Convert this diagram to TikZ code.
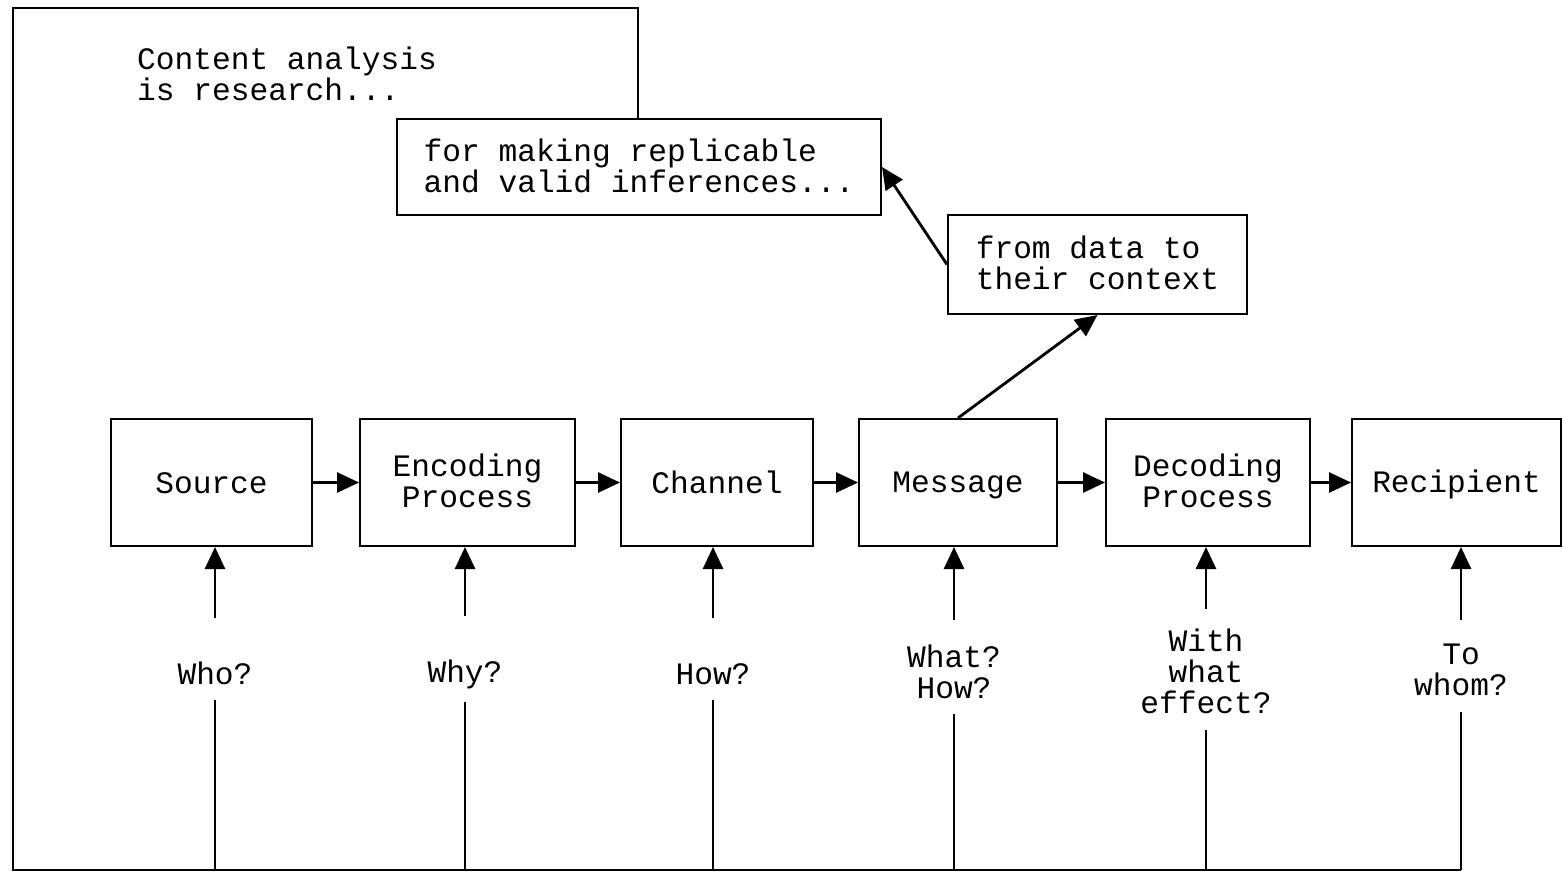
\documentclass[tikz,border=0pt]{standalone}
\usepackage{fontspec}
\setmonofont{Liberation Mono}
\usetikzlibrary{arrows.meta}
\newcommand\lnstrut{\rule[-1.8pt]{0pt}{14.8pt}}

\begin{document}
\begin{tikzpicture}[x=0.5pt,y=-0.5pt,
  every node/.style={font=\ttfamily\fontsize{15.6}{15.5}\selectfont, align=center,
    execute at begin node=\lnstrut, execute at end node=\lnstrut},
  box/.style={draw=black, line width=1pt, minimum height=63.5pt},
  ask/.style={inner xsep=0pt, inner ysep=6pt},
  >={Triangle[length=11pt,width=10pt]}]
\useasboundingbox (0,0) rectangle (1563,874);

\node[align=left] (title) at (287,75) {Content analysis\\is research...};
\node[box, minimum width=242pt, minimum height=48pt, align=left] (inf) at (639,167) {for making replicable\\and valid inferences...};
\node[box, minimum width=149.5pt, minimum height=49.5pt, align=left] (ctx) at (1097.5,264.5) {from data to\\their context};

\node[box, minimum width=100.5pt] (src) at (211.5,482.5) {Source};
\node[box, minimum width=107.5pt] (enc) at (467.5,482.5) {Encoding\\Process};
\node[box, minimum width=96pt] (chn) at (717,482.5) {Channel};
\node[box, minimum width=99pt] (msg) at (958,482.5) {Message};
\node[box, minimum width=102pt] (dec) at (1208,482.5) {Decoding\\Process};
\node[box, minimum width=104.5pt] (rcp) at (1456.5,482.5) {Recipient};

\node[ask] (who) at (215,673) {Who?};
\node[ask] (why) at (465,673) {Why?};
\node[ask] (how) at (713,673) {How?};
\node[ask] (what) at (954,673) {What?\\How?};
\node[ask] (eff) at (1206,673) {With\\what\\effect?};
\node[ask] (whom) at (1461,672) {To\\whom?};

\coordinate (tl) at (13,8);
\coordinate (tr) at (638,8);
\coordinate (bl) at (13,870);
\coordinate (br) at (1461,870);

\draw[line width=1.4pt] (inf.north -| tr) -- (tr) -- (tl) -- (bl) -- (br);

\draw[->,line width=1.4pt] (src) -- (enc);
\draw[->,line width=1.4pt] (enc) -- (chn);
\draw[->,line width=1.4pt] (chn) -- (msg);
\draw[->,line width=1.4pt] (msg) -- (dec);
\draw[->,line width=1.4pt] (dec) -- (rcp);

\draw[->,line width=1.4pt] (msg.north) -- (ctx.south);
\draw[->,line width=1.4pt] (ctx.west) -- (inf.east);

\draw[->,line width=1.4pt,shorten <=14pt] (who) -- (who |- src.south);
\draw[->,line width=1.4pt,shorten <=14pt] (why) -- (why |- enc.south);
\draw[->,line width=1.4pt,shorten <=14pt] (how) -- (how |- chn.south);
\draw[->,line width=1.4pt,shorten <=6pt] (what) -- (what |- msg.south);
\draw[->,line width=1.4pt,shorten <=4pt] (eff) -- (eff |- dec.south);
\draw[->,line width=1.4pt,shorten <=6pt] (whom) -- (whom |- rcp.south);

\draw[line width=1.4pt] (who) -- (who |- bl);
\draw[line width=1.4pt] (why) -- (why |- bl);
\draw[line width=1.4pt] (how) -- (how |- bl);
\draw[line width=1.4pt] (what) -- (what |- bl);
\draw[line width=1.4pt] (eff) -- (eff |- bl);
\draw[line width=1.4pt] (whom) -- (br);
\end{tikzpicture}
\end{document}
